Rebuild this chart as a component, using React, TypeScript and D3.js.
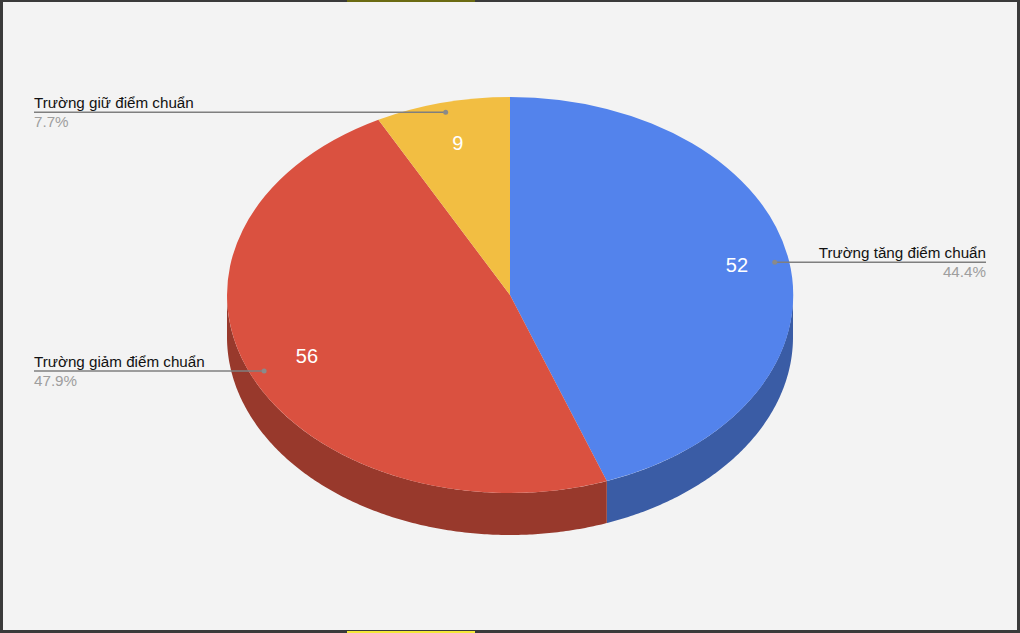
import React from "react";
import * as d3 from "d3";

const categories = ["Trường tăng điểm chuẩn", "Trường giảm điểm chuẩn", "Trường giữ điểm chuẩn"];
const values = [52, 56, 9];
const percentLabels = ["44.4%", "47.9%", "7.7%"];
const topColors = ["#5383ec", "#da5140", "#f2be42"];
const sideColors = ["#3a5ca5", "#98392c", "#a9852e"];
// nudges for the numbers inside the slices
const valueNudgeX = [4, 4, 2];
const valueNudgeY = [-2, -3, 2];

const W = 1020;
const H = 633;
const depth = 42;

// pie is squashed into an ellipse through these two scales
const xScale = d3.scaleLinear().domain([-1, 1]).range([227, 793]);
const yScale = d3.scaleLinear().domain([-1, 1]).range([97, 493]);

const pie = d3.pie<number>().sort(null).value((d) => d);
const slices = pie(values);
const arcShape = d3.arc<d3.PieArcDatum<number>>().innerRadius(0).outerRadius(1);

const pointAt = (s: d3.PieArcDatum<number>, r: number) => {
	const [x, y] = d3.arc<d3.PieArcDatum<number>>().innerRadius(r).outerRadius(r).centroid(s);
	return [xScale(x), yScale(y)];
};

// front wall, only the part of the rim facing the viewer
const sidePath = (s: d3.PieArcDatum<number>) => {
	const a0 = Math.max(s.startAngle, Math.PI / 2);
	const a1 = Math.min(s.endAngle, (3 * Math.PI) / 2);
	if (a1 <= a0) return null;
	const angles = [...d3.range(a0, a1, 0.01), a1];
	return d3
		.area<number>()
		.x((a) => xScale(Math.sin(a)))
		.y0((a) => yScale(-Math.cos(a)))
		.y1((a) => yScale(-Math.cos(a)) + depth)(angles);
};

const App = () => {
	const font = "'Liberation Sans', Arial, sans-serif";
	const sx = (xScale(1) - xScale(-1)) / 2;
	const sy = (yScale(1) - yScale(-1)) / 2;

	return (
		<svg
			width={W}
			height={H}
			style={{position: "absolute", left: 0, top: 0, fontFamily: font}}
		>
			<rect width={W} height={H} fill="#3a3a3a" />
			<rect x={347} y={0} width={128} height={2} fill="#6b6a12" />
			<rect x={347} y={631} width={128} height={2} fill="#f4e838" />
			<rect x={3} y={2} width={1014} height={628} fill="#f3f3f3" />

			{slices.map((s, i) => (
				<path key={i} d={sidePath(s) || ""} fill={sideColors[i]} />
			))}
			<g transform={`translate(${xScale(0)},${yScale(0)}) scale(${sx},${sy})`}>
				{slices.map((s, i) => (
					<path key={i} d={arcShape(s) || ""} fill={topColors[i]} />
				))}
			</g>

			{slices.map((s, i) => {
				const [x, y] = pointAt(s, 0.8);
				return (
					<text
						key={i}
						x={x + valueNudgeX[i]}
						y={y + 7 + valueNudgeY[i]}
						textAnchor="middle"
						fontSize={20}
						fill="#ffffff"
					>
						{s.value}
					</text>
				);
			})}

			{slices.map((s, i) => {
				const [x, y] = pointAt(s, 0.95);
				const onRight = x > xScale(0);
				const edge = onRight ? 986 : 34;
				const anchor = onRight ? "end" : "start";
				return (
					<g key={i}>
						<line x1={x} y1={y} x2={edge} y2={y} stroke="#7f7f7f" strokeWidth={1.5} />
						<circle cx={x} cy={y} r={2.5} fill="#8a8a8a" />
						<text x={edge} y={y - 4} textAnchor={anchor} fontSize={15.2} fill="#111111">
							{categories[i]}
						</text>
						<text x={edge} y={y + 15} textAnchor={anchor} fontSize={15.2} fill="#9e9e9e">
							{percentLabels[i]}
						</text>
					</g>
				);
			})}
		</svg>
	);
};

export default App;
